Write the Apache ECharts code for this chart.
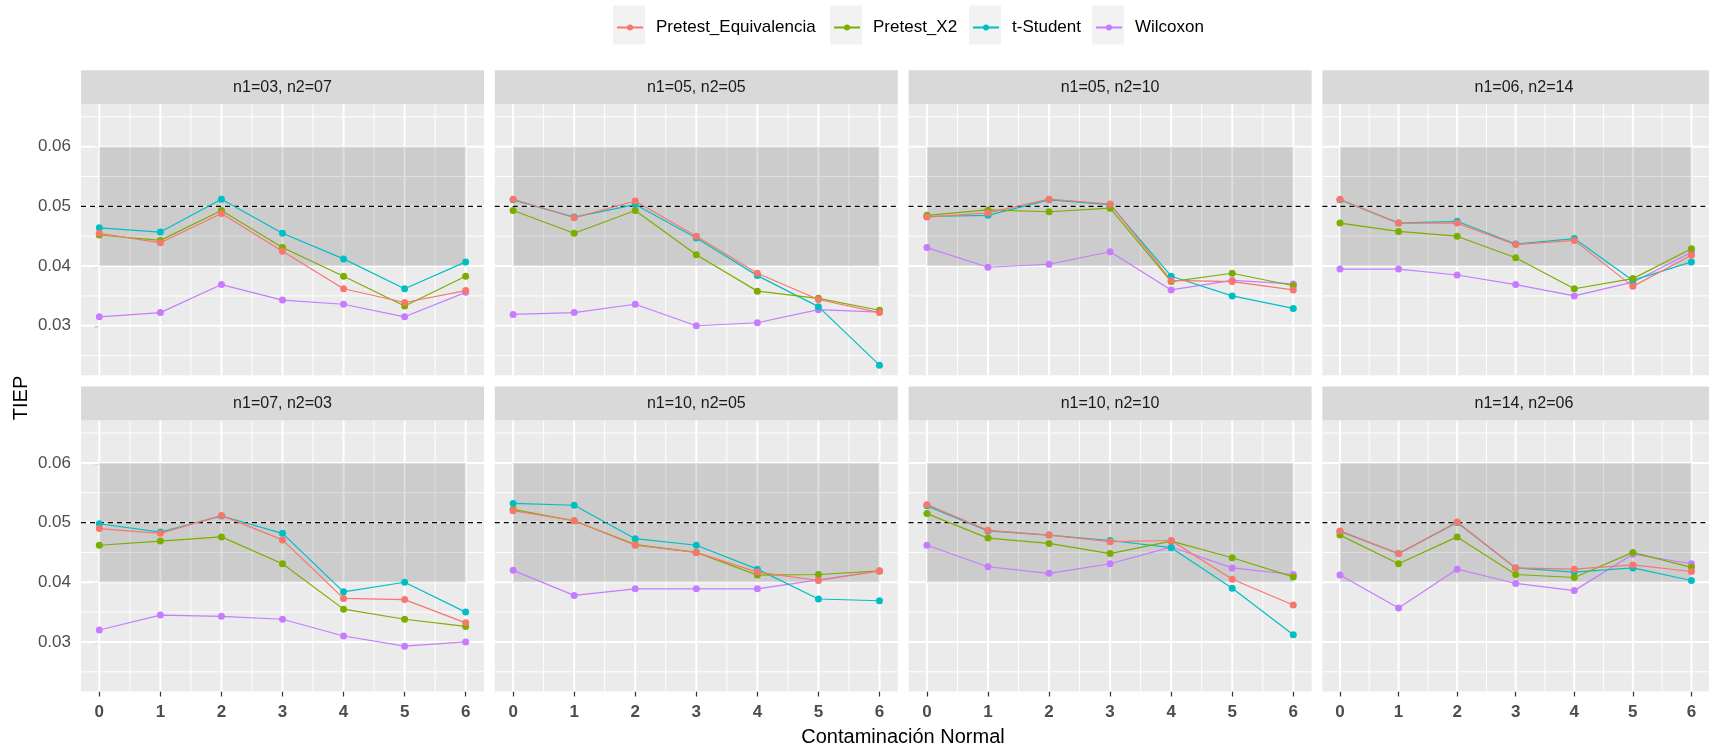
<!DOCTYPE html>
<html>
<head>
<meta charset="utf-8">
<script src="https://cdn.jsdelivr.net/npm/echarts@6/dist/echarts.min.js"></script>
<style>
html,body{margin:0;padding:0;background:#ffffff;}
#chart{width:1709px;height:745px;}
</style>
</head>
<body>
<div id="chart"></div>
<script>
// ---------------- DATA ----------------
const panelLabels = ['n1=03, n2=07','n1=05, n2=05','n1=05, n2=10','n1=06, n2=14',
                     'n1=07, n2=03','n1=10, n2=05','n1=10, n2=10','n1=14, n2=06'];
const seriesNames = ['Pretest_Equivalencia','Pretest_X2','t-Student','Wilcoxon'];
const xValues = [0,1,2,3,4,5,6];
const xTickLabels = ['0','1','2','3','4','5','6'];
const yTickValues = [0.03,0.04,0.05,0.06];
const yTickLabels = ['0.03','0.04','0.05','0.06'];
const xMajorBreaks = [0,1,2,3,4,5,6];
const xMinorBreaks = [0.5,1.5,2.5,3.5,4.5,5.5];
const yMajorBreaks = [0.03,0.04,0.05,0.06];
const yMinorBreaks = [0.025,0.035,0.045,0.055,0.065];
const bandX = [0,6];
const bandY = [0.04,0.06];
const refLine = 0.05;
const xRange = [-0.3,6.3];
const yRange = [0.0217,0.0671];
const xAxisTitle = 'Contaminación Normal';
const yAxisTitle = 'TIEP';

// one row per panel, 7 values (x = 0..6)
const pretestEquivalencia = [
  [0.0455,0.0439,0.0488,0.0425,0.0362,0.0339,0.0359],
  [0.0512,0.0481,0.0509,0.0450,0.0388,0.0344,0.0322],
  [0.0482,0.0489,0.0512,0.0504,0.0376,0.0374,0.0360],
  [0.0512,0.0472,0.0472,0.0436,0.0443,0.0366,0.0418],
  [0.0490,0.0482,0.0512,0.0471,0.0373,0.0371,0.0332],
  [0.0520,0.0503,0.0462,0.0450,0.0417,0.0403,0.0419],
  [0.0530,0.0487,0.0479,0.0468,0.0470,0.0405,0.0362],
  [0.0486,0.0448,0.0501,0.0424,0.0422,0.0429,0.0418]
];
const pretestX2 = [
  [0.0452,0.0443,0.0493,0.0431,0.0383,0.0333,0.0383],
  [0.0493,0.0455,0.0493,0.0419,0.0358,0.0346,0.0326],
  [0.0485,0.0494,0.0491,0.0497,0.0374,0.0388,0.0367],
  [0.0472,0.0458,0.0450,0.0414,0.0362,0.0379,0.0429],
  [0.0462,0.0469,0.0476,0.0431,0.0355,0.0338,0.0326],
  [0.0522,0.0503,0.0463,0.0450,0.0412,0.0413,0.0419],
  [0.0515,0.0474,0.0465,0.0448,0.0469,0.0441,0.0409],
  [0.0479,0.0431,0.0476,0.0413,0.0408,0.0450,0.0425]
];
const tStudent = [
  [0.0464,0.0457,0.0512,0.0455,0.0412,0.0362,0.0407],
  [0.0511,0.0482,0.0503,0.0447,0.0384,0.0332,0.0234],
  [0.0483,0.0485,0.0511,0.0503,0.0383,0.0350,0.0329],
  [0.0511,0.0472,0.0475,0.0437,0.0446,0.0376,0.0407],
  [0.0498,0.0484,0.0511,0.0482,0.0384,0.0400,0.0350],
  [0.0532,0.0529,0.0473,0.0462,0.0422,0.0372,0.0369],
  [0.0528,0.0486,0.0479,0.0470,0.0458,0.0390,0.0312],
  [0.0485,0.0448,0.0500,0.0424,0.0417,0.0424,0.0403]
];
const wilcoxon = [
  [0.0315,0.0322,0.0369,0.0343,0.0336,0.0315,0.0356],
  [0.0319,0.0322,0.0336,0.0300,0.0305,0.0327,0.0323],
  [0.0431,0.0398,0.0403,0.0424,0.0360,0.0376,0.0370],
  [0.0395,0.0395,0.0385,0.0369,0.0350,0.0373,0.0423],
  [0.0320,0.0345,0.0343,0.0338,0.0310,0.0293,0.0300],
  [0.0420,0.0378,0.0389,0.0389,0.0389,0.0404,0.0419],
  [0.0462,0.0426,0.0415,0.0431,0.0459,0.0424,0.0413],
  [0.0412,0.0357,0.0422,0.0398,0.0386,0.0447,0.0431]
];

// ---------------- STYLE / LAYOUT ----------------
const FONT = '"Liberation Sans", Arial, Helvetica, sans-serif';
const seriesColors = {
  'Pretest_Equivalencia':'#F8766D','Pretest_X2':'#7CAE00','t-Student':'#00BFC4','Wilcoxon':'#C77CFF'
};
const seriesValues = {
  'Pretest_Equivalencia':pretestEquivalencia,'Pretest_X2':pretestX2,'t-Student':tStudent,'Wilcoxon':wilcoxon
};
const drawOrder = ['Wilcoxon','t-Student','Pretest_X2','Pretest_Equivalencia'];
const PANEL_W = 403, PANEL_H = 271, STRIP_H = 34;
const COL_LEFT = [81, 494.8, 908.6, 1322.4];
const ROW_TOP = [104.3, 420.5];
const LEGEND_KEY_LEFT = [613, 830, 969, 1092];

const gridData = []
  .concat(xMajorBreaks.map(v => [0, v, 1]))
  .concat(xMinorBreaks.map(v => [0, v, 0]))
  .concat(yMajorBreaks.map(v => [1, v, 1]))
  .concat(yMinorBreaks.map(v => [1, v, 0]));

function renderGridLines(params, api) {
  const cs = params.coordSys;
  const dir = api.value(0), v = api.value(1), major = api.value(2) === 1;
  let shape;
  if (dir === 0) {
    const px = api.coord([v, yRange[0]])[0];
    shape = {x1: px, y1: cs.y, x2: px, y2: cs.y + cs.height};
  } else {
    const py = api.coord([xRange[0], v])[1];
    shape = {x1: cs.x, y1: py, x2: cs.x + cs.width, y2: py};
  }
  return {type: 'line', shape, silent: true,
          style: {stroke: '#FFFFFF', lineWidth: major ? 2 : 1}};
}

function renderBand(params, api) {
  const cs = params.coordSys;
  const p0 = api.coord([api.value(0), api.value(3)]);
  const p1 = api.coord([api.value(2), api.value(1)]);
  const yRef = api.coord([xRange[0], api.value(4)])[1];
  return {type: 'group', silent: true, children: [
    {type: 'rect', shape: {x: p0[0], y: p0[1], width: p1[0] - p0[0], height: p1[1] - p0[1]},
     style: {fill: 'rgba(0,0,0,0.13)'}},
    {type: 'line', shape: {x1: cs.x, y1: yRef, x2: cs.x + cs.width, y2: yRef},
     style: {stroke: '#000000', lineWidth: 1.2, lineDash: [5, 4]}}
  ]};
}

const grids = [], xAxes = [], yAxes = [], series = [], graphics = [];

panelLabels.forEach((label, i) => {
  const col = i % 4, row = Math.floor(i / 4);
  const left = COL_LEFT[col], top = ROW_TOP[row];
  grids.push({left, top, width: PANEL_W, height: PANEL_H, show: true,
              backgroundColor: '#EBEBEB', borderWidth: 0});
  xAxes.push({
    gridIndex: i, type: 'value', min: xRange[0], max: xRange[1],
    axisLine: {show: false}, splitLine: {show: false},
    axisTick: {show: row === 1, length: 5, customValues: xValues,
               lineStyle: {color: '#333333', width: 1.2}},
    axisLabel: {show: row === 1, customValues: xValues, margin: 12,
                formatter: v => xTickLabels[xValues.indexOf(Math.round(v))],
                color: '#4D4D4D', fontWeight: 'bold', fontSize: 17, fontFamily: FONT}
  });
  yAxes.push({
    gridIndex: i, type: 'value', min: yRange[0], max: yRange[1],
    axisLine: {show: false}, splitLine: {show: false},
    axisTick: {show: col === 0, length: 5, customValues: yTickValues,
               lineStyle: {color: '#333333', width: 1.2}},
    axisLabel: {show: col === 0, customValues: yTickValues, margin: 10,
                formatter: v => yTickLabels[yTickValues.findIndex(t => Math.abs(t - v) < 1e-9)],
                color: '#4D4D4D', fontSize: 17, fontFamily: FONT}
  });
  series.push({type: 'custom', name: 'grid' + i, xAxisIndex: i, yAxisIndex: i, z: 1,
               silent: true, renderItem: renderGridLines, data: gridData, animation: false});
  series.push({type: 'custom', name: 'band' + i, xAxisIndex: i, yAxisIndex: i, z: 2,
               silent: true, renderItem: renderBand,
               data: [[bandX[0], bandY[0], bandX[1], bandY[1], refLine]], animation: false});
  drawOrder.forEach(name => {
    series.push({
      type: 'line', name, xAxisIndex: i, yAxisIndex: i, z: 3,
      data: xValues.map((x, k) => [x, seriesValues[name][i][k]]),
      symbol: 'circle', symbolSize: 7, showSymbol: true,
      lineStyle: {color: seriesColors[name], width: 1.2},
      itemStyle: {color: seriesColors[name]},
      emphasis: {disabled: true}, animation: false
    });
  });
  // strip
  graphics.push({type: 'rect', silent: true,
    shape: {x: left, y: top - STRIP_H, width: PANEL_W, height: STRIP_H},
    style: {fill: '#D9D9D9'}});
  graphics.push({type: 'text', silent: true, x: left + PANEL_W / 2, y: top - STRIP_H / 2,
    style: {text: label, align: 'center', verticalAlign: 'middle', fill: '#1A1A1A',
            fontSize: 16, fontFamily: FONT}});
});

// axis titles
graphics.push({type: 'text', silent: true, x: 903, y: 737,
  style: {text: xAxisTitle, align: 'center', verticalAlign: 'middle', fill: '#000000',
          fontSize: 20, fontFamily: FONT}});
graphics.push({type: 'text', silent: true, x: 21, y: 398, rotation: Math.PI / 2,
  style: {text: yAxisTitle, align: 'center', verticalAlign: 'middle', fill: '#000000',
          fontSize: 20, fontFamily: FONT}});

// legend key backgrounds
LEGEND_KEY_LEFT.forEach(x => {
  graphics.push({type: 'rect', silent: true, z: -1,
    shape: {x: x, y: 5.5, width: 32, height: 39}, style: {fill: '#F2F2F2'}});
});

const legends = seriesNames.map((name, k) => ({
  data: [name], left: LEGEND_KEY_LEFT[k] + 3, top: 19, orient: 'horizontal',
  itemWidth: 26, itemHeight: 7.5, itemGap: 0, padding: 0, selectedMode: false,
  textStyle: {fontSize: 17, fontFamily: FONT, color: '#000000', padding: [0, 0, 0, 8]}
}));

const chart = echarts.init(document.getElementById('chart'), null, {renderer: 'canvas'});
chart.setOption({
  animation: false,
  backgroundColor: '#FFFFFF',
  legend: legends,
  grid: grids,
  xAxis: xAxes,
  yAxis: yAxes,
  series: series,
  graphic: {elements: graphics}
});
</script>
</body>
</html>
